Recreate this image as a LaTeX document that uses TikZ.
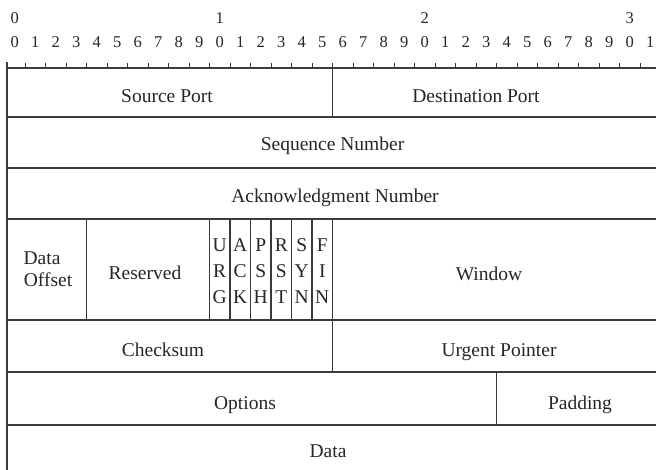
\documentclass[tikz,border=0pt]{standalone}
\usepackage{fontspec}
\setmainfont{Liberation Serif}
\definecolor{linec}{HTML}{3A3A3A}
\definecolor{textc}{HTML}{262626}
\begin{document}
\begin{tikzpicture}[x=1pt,y=-1pt,
  grid/.style={draw=linec, line width=1.2pt},
  tick/.style={draw=linec, line width=1pt},
  lbl/.style={font=\fontsize{19.5}{22}\selectfont, text=textc, anchor=base, inner sep=0pt},
  digit/.style={font=\fontsize{16.5}{18}\selectfont, text=textc, anchor=base, inner sep=0pt}]
\useasboundingbox (0,0) rectangle (656,470);
\fill[white] (0,0) rectangle (656,470);
\begin{scope}
\clip (0,0) rectangle (656,470);
% bit numbers
\foreach \i/\t in {0/0,10/1,20/2,30/3}
  \node[digit] (top\t) at ({14.75+20.5*\i},24) {\t};
\foreach \i in {0,...,31}{
  \pgfmathtruncatemacro\d{mod(\i,10)}
  \node[digit] (bit\i) at ({14.75+20.5*\i},48) {\d};
}
% ticks
\foreach \i in {1,...,31}
  \draw[tick] ({4.5+20.5*\i},63) -- ({4.5+20.5*\i},68);
% horizontal lines
\foreach \y in {68,117,168,219,320,372,425}
  \draw[grid] (7,\y) -- (662,\y);
% left border
\draw[grid] (7,62) -- (7,475);
% vertical dividers
\draw[grid] (332.5,68) -- (332.5,117);
\foreach \x in {86.5,209.5,230,250.5,271,291.5,312,332.5}
  \draw[grid] (\x,219) -- (\x,320);
\draw[grid] (332.5,320) -- (332.5,372);
\draw[grid] (496.5,372) -- (496.5,425);
% labels
\node[lbl] (src) at (167,102.5) {Source Port};
\node[lbl] (dst) at (476,102.5) {Destination Port};
\node[lbl] (seq) at (332.5,151) {Sequence Number};
\node[lbl] (ack) at (335,203) {Acknowledgment Number};
\node[lbl] (off1) at (42,265) {Data};
\node[lbl] (off2) at (48,287) {Offset};
\node[lbl] (res) at (145,280) {Reserved};
\foreach \a/\b/\c [count=\k from 0] in {U/R/G,A/C/K,P/S/H,R/S/T,S/Y/N,F/I/N}{
  \node[lbl] (fa\k) at ({219.75+20.5*\k},252) {\a};
  \node[lbl] (fb\k) at ({219.75+20.5*\k},278) {\b};
  \node[lbl] (fc\k) at ({219.75+20.5*\k},304) {\c};
}
\node[lbl] (win) at (489,281) {Window};
\node[lbl] (chk) at (163,356) {Checksum};
\node[lbl] (urg) at (499,356) {Urgent Pointer};
\node[lbl] (opt) at (245,409) {Options};
\node[lbl] (pad) at (580,409) {Padding};
\node[lbl] (data) at (328,457) {Data};
\end{scope}
\end{tikzpicture}
\end{document}
